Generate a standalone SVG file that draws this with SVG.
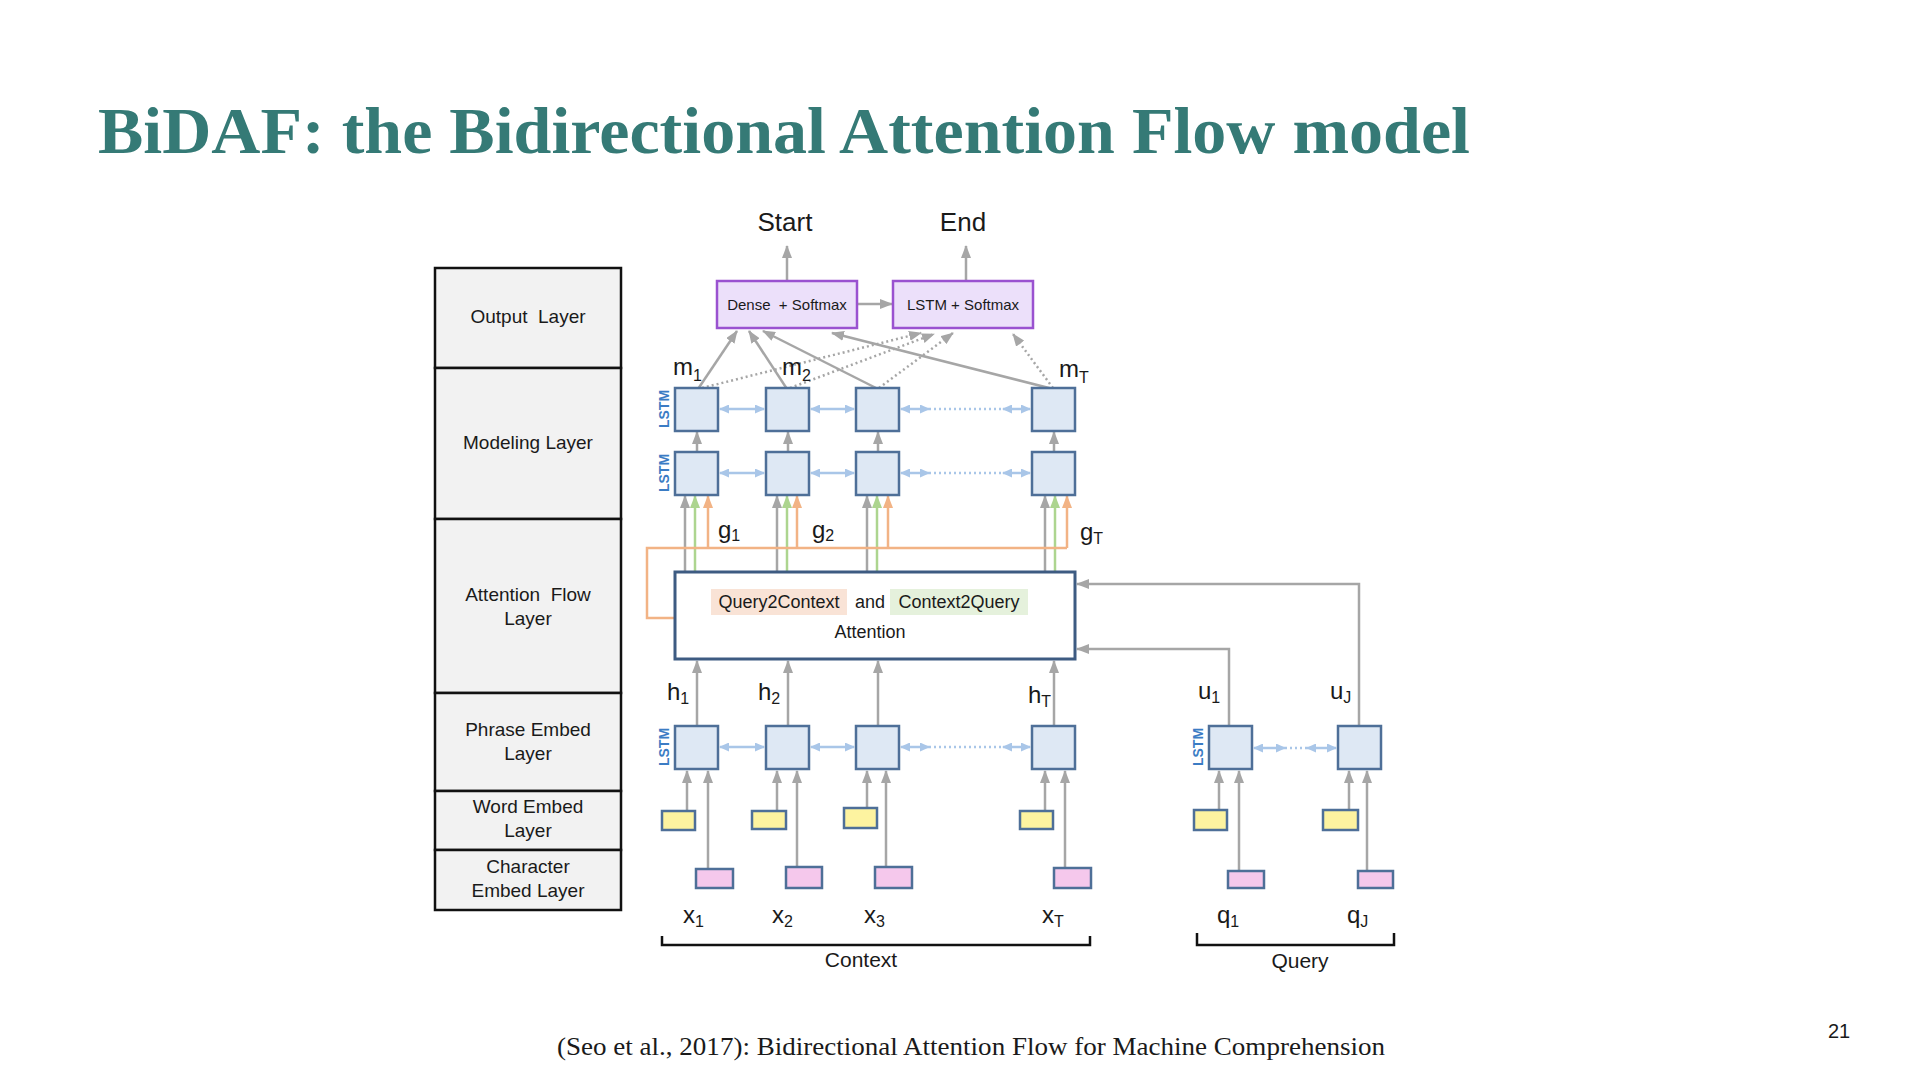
<svg xmlns="http://www.w3.org/2000/svg" width="1920" height="1080" viewBox="0 0 1920 1080">
<defs>
<style>
.t{font-family:"Liberation Sans",Arial,sans-serif;fill:#1a1a1a;white-space:pre}
.lt{font-family:"Liberation Sans",Arial,sans-serif;fill:#1a1a1a;font-size:19px;text-anchor:middle;white-space:pre}
.lay{fill:#f2f2f2;stroke:#111;stroke-width:2.5}
.cell{fill:#dee8f4;stroke:#4e6f98;stroke-width:2.5}
.we{fill:#fdf3a0;stroke:#4e6f98;stroke-width:2.5}
.ce{fill:#f5c8ec;stroke:#4e6f98;stroke-width:2.5}
.out{fill:#ece0fa;stroke:#9a52d0;stroke-width:2.5}
.g{stroke:#a6a6a6;stroke-width:2.5;fill:none;marker-end:url(#ag)}
.gd{stroke:#a6a6a6;stroke-width:2.5;stroke-dasharray:2 3;fill:none;marker-end:url(#ag)}
.b{stroke:#a9c6e8;stroke-width:2.5;fill:none;marker-start:url(#ab);marker-end:url(#ab)}
.bd{stroke:#a9c6e8;stroke-width:2.5;stroke-dasharray:2 3;fill:none}
.o{stroke:#f2b385;stroke-width:2.5;fill:none}
.oa{stroke:#f2b385;stroke-width:2.5;fill:none;marker-end:url(#ao)}
.gr{stroke:#add58f;stroke-width:2.5;fill:none;marker-end:url(#agr)}
.lstm{font-family:"Liberation Sans",Arial,sans-serif;font-size:14px;fill:#3b7cc4;font-weight:bold;text-anchor:middle}
.lbl{font-family:"Liberation Sans",Arial,sans-serif;font-size:24px;fill:#1a1a1a}
.sub{font-size:16px}
</style>
<marker id="ag" viewBox="0 0 13 10" refX="12" refY="5" markerWidth="13" markerHeight="10" markerUnits="userSpaceOnUse" orient="auto"><path d="M0,0 L13,5 L0,10 z" fill="#a6a6a6"/></marker>
<marker id="ab" viewBox="0 0 10 9" refX="9" refY="4.5" markerWidth="10" markerHeight="9" markerUnits="userSpaceOnUse" orient="auto-start-reverse"><path d="M0,0 L10,4.5 L0,9 z" fill="#a9c6e8"/></marker>
<marker id="ao" viewBox="0 0 13 10" refX="12" refY="5" markerWidth="13" markerHeight="10" markerUnits="userSpaceOnUse" orient="auto"><path d="M0,0 L13,5 L0,10 z" fill="#f2b385"/></marker>
<marker id="agr" viewBox="0 0 13 10" refX="12" refY="5" markerWidth="13" markerHeight="10" markerUnits="userSpaceOnUse" orient="auto"><path d="M0,0 L13,5 L0,10 z" fill="#add58f"/></marker>
</defs>
<rect width="1920" height="1080" fill="#ffffff"/>

<text id="title" x="98" y="153" font-family="'Liberation Serif',serif" font-weight="bold" font-size="66" fill="#357a76" textLength="1372" lengthAdjust="spacingAndGlyphs">BiDAF: the Bidirectional Attention Flow model</text>

<g id="layers">
<rect class="lay" x="435" y="268" width="186" height="100"/>
<rect class="lay" x="435" y="368" width="186" height="151"/>
<rect class="lay" x="435" y="519" width="186" height="174"/>
<rect class="lay" x="435" y="693" width="186" height="98"/>
<rect class="lay" x="435" y="791" width="186" height="59"/>
<rect class="lay" x="435" y="850" width="186" height="60"/>
<text class="lt" x="528" y="323">Output  Layer</text>
<text class="lt" x="528" y="449">Modeling Layer</text>
<text class="lt" x="528" y="601">Attention  Flow</text>
<text class="lt" x="528" y="625">Layer</text>
<text class="lt" x="528" y="736">Phrase Embed</text>
<text class="lt" x="528" y="760">Layer</text>
<text class="lt" x="528" y="813">Word Embed</text>
<text class="lt" x="528" y="837">Layer</text>
<text class="lt" x="528" y="873">Character</text>
<text class="lt" x="528" y="897">Embed Layer</text>
</g>

<g id="connectors">
<line class="g" x1="787" y1="281" x2="787" y2="246"/>
<line class="g" x1="966" y1="281" x2="966" y2="246"/>
<line class="g" x1="857" y1="304" x2="892" y2="304"/>
<line class="g" x1="698" y1="389" x2="737" y2="331"/>
<line class="g" x1="787" y1="389" x2="749" y2="331"/>
<line class="g" x1="878" y1="389" x2="763" y2="331"/>
<line class="g" x1="1053" y1="389" x2="832" y2="333"/>
<line class="gd" x1="702" y1="388" x2="921" y2="333"/>
<line class="gd" x1="790" y1="388" x2="934" y2="334"/>
<line class="gd" x1="879" y1="388" x2="953" y2="333"/>
<line class="gd" x1="1053" y1="388" x2="1013" y2="334"/>
<line class="g" x1="697" y1="452" x2="697" y2="432"/>
<line class="g" x1="788" y1="452" x2="788" y2="432"/>
<line class="g" x1="878" y1="452" x2="878" y2="432"/>
<line class="g" x1="1054" y1="452" x2="1054" y2="432"/>
<line class="g" x1="685" y1="572" x2="685" y2="496"/>
<line class="g" x1="777" y1="572" x2="777" y2="496"/>
<line class="g" x1="867" y1="572" x2="867" y2="496"/>
<line class="g" x1="1045" y1="572" x2="1045" y2="496"/>
<line class="gr" x1="695" y1="572" x2="695" y2="496"/>
<line class="gr" x1="787" y1="572" x2="787" y2="496"/>
<line class="gr" x1="877" y1="572" x2="877" y2="496"/>
<line class="gr" x1="1055" y1="572" x2="1055" y2="496"/>
<path class="o" d="M675,618 H647 V548 H1067"/>
<line class="oa" x1="708" y1="548" x2="708" y2="496"/>
<line class="oa" x1="797" y1="548" x2="797" y2="496"/>
<line class="oa" x1="888" y1="548" x2="888" y2="496"/>
<line class="oa" x1="1067" y1="548" x2="1067" y2="496"/>
<path class="g" d="M1359,726 V584 H1077"/>
<path class="g" d="M1229,726 V649 H1077"/>
<line class="g" x1="697" y1="726" x2="697" y2="661"/>
<line class="g" x1="788" y1="726" x2="788" y2="661"/>
<line class="g" x1="878" y1="726" x2="878" y2="661"/>
<line class="g" x1="1054" y1="726" x2="1054" y2="661"/>
<line class="g" x1="687" y1="811" x2="687" y2="771"/>
<line class="g" x1="777" y1="811" x2="777" y2="771"/>
<line class="g" x1="867" y1="808" x2="867" y2="771"/>
<line class="g" x1="1045" y1="811" x2="1045" y2="771"/>
<line class="g" x1="1219" y1="810" x2="1219" y2="771"/>
<line class="g" x1="1349" y1="810" x2="1349" y2="771"/>
<line class="g" x1="708" y1="869" x2="708" y2="771"/>
<line class="g" x1="797" y1="867" x2="797" y2="771"/>
<line class="g" x1="886" y1="867" x2="886" y2="771"/>
<line class="g" x1="1065" y1="868" x2="1065" y2="771"/>
<line class="g" x1="1239" y1="871" x2="1239" y2="771"/>
<line class="g" x1="1367" y1="871" x2="1367" y2="771"/>
<line class="b" x1="720" y1="409" x2="764" y2="409"/>
<line class="b" x1="811" y1="409" x2="854" y2="409"/>
<line class="b" x1="901" y1="409" x2="929" y2="409"/>
<line class="bd" x1="929" y1="409" x2="1003" y2="409"/>
<line class="b" x1="1003" y1="409" x2="1030" y2="409"/>
<line class="b" x1="720" y1="473" x2="764" y2="473"/>
<line class="b" x1="811" y1="473" x2="854" y2="473"/>
<line class="b" x1="901" y1="473" x2="929" y2="473"/>
<line class="bd" x1="929" y1="473" x2="1003" y2="473"/>
<line class="b" x1="1003" y1="473" x2="1030" y2="473"/>
<line class="b" x1="720" y1="747" x2="764" y2="747"/>
<line class="b" x1="811" y1="747" x2="854" y2="747"/>
<line class="b" x1="901" y1="747" x2="929" y2="747"/>
<line class="bd" x1="929" y1="747" x2="1003" y2="747"/>
<line class="b" x1="1003" y1="747" x2="1030" y2="747"/>
<line class="b" x1="1254" y1="748" x2="1285" y2="748"/>
<line class="bd" x1="1285" y1="748" x2="1307" y2="748"/>
<line class="b" x1="1307" y1="748" x2="1336" y2="748"/>
<path d="M662,936 V945 H1090 V936" fill="none" stroke="#111" stroke-width="2.5"/>
<path d="M1197,933 V945 H1394 V933" fill="none" stroke="#111" stroke-width="2.5"/>
</g>

<g id="start"><text class="t" x="785" y="231" font-size="26" text-anchor="middle">Start</text></g>
<g id="end"><text class="t" x="963" y="231" font-size="26" text-anchor="middle">End</text></g>
<g id="dense-softmax"><rect class="out" x="717" y="281" width="140" height="47"/><text class="t" x="787" y="310" font-size="15" text-anchor="middle">Dense  + Softmax</text></g>
<g id="lstm-softmax"><rect class="out" x="893" y="281" width="140" height="47"/><text class="t" x="963" y="310" font-size="15" text-anchor="middle">LSTM + Softmax</text></g>

<g id="modeling-row1">
<rect class="cell" x="675" y="388" width="43" height="43"/>
<rect class="cell" x="766" y="388" width="43" height="43"/>
<rect class="cell" x="856" y="388" width="43" height="43"/>
<rect class="cell" x="1032" y="388" width="43" height="43"/>
<text class="lstm" transform="translate(669,409) rotate(-90)">LSTM</text>
</g>
<g id="modeling-row2">
<rect class="cell" x="675" y="452" width="43" height="43"/>
<rect class="cell" x="766" y="452" width="43" height="43"/>
<rect class="cell" x="856" y="452" width="43" height="43"/>
<rect class="cell" x="1032" y="452" width="43" height="43"/>
<text class="lstm" transform="translate(669,473) rotate(-90)">LSTM</text>
</g>

<g id="attention">
<rect x="675" y="572" width="400" height="87" fill="#ffffff" stroke="#3d5b82" stroke-width="3"/>
<rect x="711" y="589" width="136" height="26" fill="#f9e3d6"/>
<rect x="890" y="589" width="138" height="26" fill="#e5f1dc"/>
<text class="t" x="779" y="608" font-size="18" text-anchor="middle">Query2Context</text>
<text class="t" x="870" y="608" font-size="18" text-anchor="middle">and</text>
<text class="t" x="959" y="608" font-size="18" text-anchor="middle">Context2Query</text>
<text class="t" x="870" y="638" font-size="18" text-anchor="middle">Attention</text>
</g>

<g id="phrase-context">
<rect class="cell" x="675" y="726" width="43" height="43"/>
<rect class="cell" x="766" y="726" width="43" height="43"/>
<rect class="cell" x="856" y="726" width="43" height="43"/>
<rect class="cell" x="1032" y="726" width="43" height="43"/>
<text class="lstm" transform="translate(669,747) rotate(-90)">LSTM</text>
</g>
<g id="phrase-query">
<rect class="cell" x="1209" y="726" width="43" height="43"/>
<rect class="cell" x="1338" y="726" width="43" height="43"/>
<text class="lstm" transform="translate(1203,747) rotate(-90)">LSTM</text>
</g>

<g id="word-embed">
<rect class="we" x="662" y="811" width="33" height="19"/>
<rect class="we" x="752" y="811" width="34" height="18"/>
<rect class="we" x="844" y="808" width="33" height="20"/>
<rect class="we" x="1020" y="811" width="33" height="18"/>
<rect class="we" x="1194" y="810" width="33" height="20"/>
<rect class="we" x="1323" y="810" width="35" height="20"/>
</g>
<g id="char-embed">
<rect class="ce" x="696" y="869" width="37" height="19"/>
<rect class="ce" x="786" y="867" width="36" height="21"/>
<rect class="ce" x="875" y="867" width="37" height="21"/>
<rect class="ce" x="1054" y="868" width="37" height="20"/>
<rect class="ce" x="1228" y="871" width="36" height="17"/>
<rect class="ce" x="1358" y="871" width="35" height="17"/>
</g>

<g id="labels">
<text class="lbl" x="673" y="375">m<tspan class="sub" dy="6">1</tspan></text>
<text class="lbl" x="782" y="375">m<tspan class="sub" dy="6">2</tspan></text>
<text class="lbl" x="1059" y="377">m<tspan class="sub" dy="6">T</tspan></text>
<text class="lbl" x="718" y="538">g<tspan class="sub" dy="3">1</tspan></text>
<text class="lbl" x="812" y="538">g<tspan class="sub" dy="3">2</tspan></text>
<text class="lbl" x="1080" y="540">g<tspan class="sub" dy="4">T</tspan></text>
<text class="lbl" x="667" y="700">h<tspan class="sub" dy="4">1</tspan></text>
<text class="lbl" x="758" y="700">h<tspan class="sub" dy="4">2</tspan></text>
<text class="lbl" x="1028" y="703">h<tspan class="sub" dy="4">T</tspan></text>
<text class="lbl" x="1198" y="699">u<tspan class="sub" dy="4">1</tspan></text>
<text class="lbl" x="1330" y="699">u<tspan class="sub" dy="4">J</tspan></text>
<text class="lbl" x="683" y="923">x<tspan class="sub" dy="4">1</tspan></text>
<text class="lbl" x="772" y="923">x<tspan class="sub" dy="4">2</tspan></text>
<text class="lbl" x="864" y="923">x<tspan class="sub" dy="4">3</tspan></text>
<text class="lbl" x="1042" y="923">x<tspan class="sub" dy="4">T</tspan></text>
<text class="lbl" x="1217" y="923">q<tspan class="sub" dy="4">1</tspan></text>
<text class="lbl" x="1347" y="923">q<tspan class="sub" dy="4">J</tspan></text>
<text class="t" x="861" y="967" font-size="21" text-anchor="middle">Context</text>
<text class="t" x="1300" y="968" font-size="21" text-anchor="middle">Query</text>
</g>

<text id="citation" x="557" y="1055" font-family="'Liberation Serif',serif" font-size="25" fill="#1a1a1a" textLength="828" lengthAdjust="spacingAndGlyphs">(Seo et al., 2017): Bidirectional Attention Flow for Machine Comprehension</text>
<text id="page" x="1828" y="1038" font-family="'Liberation Sans',Arial,sans-serif" font-size="20" fill="#1a1a1a">21</text>
</svg>
